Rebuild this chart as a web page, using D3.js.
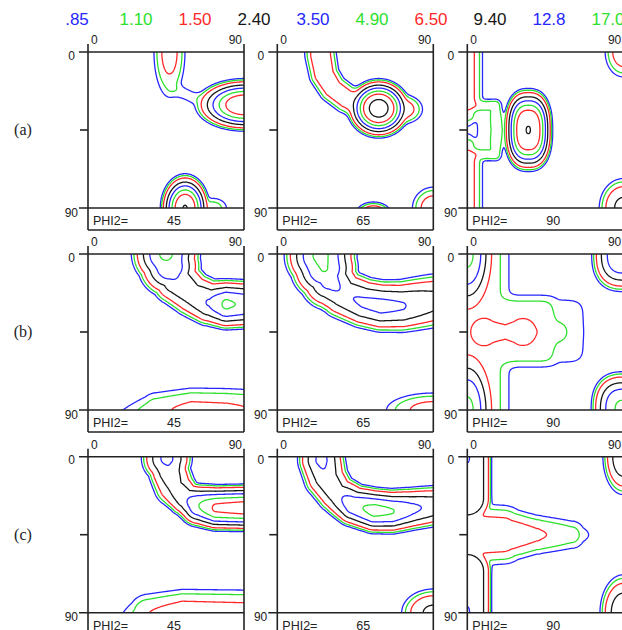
<!DOCTYPE html>
<html>
<head>
<meta charset="utf-8">
<script src="https://cdn.jsdelivr.net/npm/d3@7"></script>
<style>
  html, body { margin: 0; padding: 0; background: #fff; }
  svg { display: block; }
</style>
</head>
<body>
<svg id="chart" width="622" height="630"></svg>
<script>
// Contour levels of the orientation density and their legend labels
const levels = [0.85, 1.10, 1.50, 2.40, 3.50, 4.90, 6.50, 9.40, 12.8, 17.0];
const levelLabels = [".85", "1.10", "1.50", "2.40", "3.50", "4.90", "6.50", "9.40", "12.8", "17.0"];
const rowLabels = ["(a)", "(b)", "(c)"];
const phi2Sections = [45, 65, 90];
const angleTicks = [0, 90];

// Texture components of each section (angles in degrees).
// Peaks:  [phi1, Phi, spread phi1, spread Phi, density, shape]
// Ridges: { shape, nodes: [phi1, Phi, density, spread] }
const peaksA45 = [
  [47, 0, 7.3, 21, 1.8, 2],
  [90, 30.5, 13, 7, 9.0, 2],
  [56, 90, 6.5, 9, 9.55, 2],
  [72, 90, 8.5, 6, 1.3, 2]
];
const ridgesA45 = [
  { shape: 2, nodes: [[49, 21, 1.0, 5], [60, 26, 1.0, 5], [68, 28, 1.0, 5]] }
];

const peaksA65 = [
  [58.5, 32.5, 8, 7.5, 11.8, 2],
  [72, 33, 9, 6.5, 2.0, 2],
  [55.5, 94, 7, 5, 2.6, 2],
  [90, 90, 9.2, 9.2, 2.0, 2]
];
const ridgesA65 = [
  { shape: 2, nodes: [[24.5, -10, 2.15, 6.7], [25, 2, 2.15, 6.7], [27, 13, 2.1, 6.5], [32, 21, 2.0, 6.5], [40, 27, 2.0, 6.5], [50, 31, 2.2, 6.5]] }
];

const peaksA90 = [
  [35.2, 45, 7.5, 12.8, 9.45, 2.5],
  [14, 45, 11.7, 13.1, 0.95, 4],
  [90, 0, 8, 11, 2.0, 2],
  [90, 90, 9, 11, 2.8, 2]
];
const ridgesA90 = [
  { shape: 2, nodes: [[0, -10, 1.75, 7.3], [0, 28, 1.75, 7.3], [0, 36, 1.3, 6], [0, 45, 0.7, 5], [0, 54, 1.3, 6], [0, 62, 1.75, 7.3], [0, 100, 1.75, 7.3]] },
  { shape: 2, nodes: [[0, 31, 1.3, 3.5], [16, 31, 1.35, 4], [17, 45, 1.35, 4], [16, 59, 1.35, 4], [0, 59, 1.3, 3.5]] }
];

const peaksB45 = [];
const ridgesB45 = [
  { shape: 2, nodes: [[44, -10, 4.6, 11], [45, 0, 5.2, 10.5], [47, 7, 4.6, 10], [51, 15, 3.4, 9], [60, 23, 3.0, 8.5], [70, 28, 3.6, 8], [80, 29, 5.2, 7.8], [90, 29, 4.6, 7.8], [100, 29, 4.4, 7.8]] },
  { shape: 2, nodes: [[18, 96, 0.9, 10], [40, 91, 1.4, 11], [60, 90, 1.65, 11], [80, 90, 1.6, 11], [100, 90, 1.45, 11]] }
];

const peaksB65 = [
  [90, 90, 22, 8, 1.8, 2]
];
const ridgesB65 = [
  { shape: 2, nodes: [[25, -10, 5.0, 11], [25, 1, 5.3, 11], [27, 8, 5.0, 10.5], [30, 15, 4.0, 10], [38, 23, 3.3, 9], [50, 28, 3.7, 8.7], [60, 30, 3.9, 8.7], [72, 30, 3.6, 9], [90, 27, 2.8, 10], [100, 26, 2.6, 10]] }
];

const peaksB90 = [
  [0, 0, 8.5, 19, 5.3, 2],
  [0, 90, 8.5, 19, 5.3, 2],
  [90, 0, 11.1, 13.2, 4.8, 2.5],
  [90, 90, 11.1, 13.2, 5.2, 2.5],
  [34, 44.5, 18, 21, 1.2, 6],
  [45, 44.5, 28, 23, 0.95, 6]
];
const ridgesB90 = [
  { shape: 4, nodes: [[0, -10, 1.3, 25], [0, 100, 1.3, 25]] },
  { shape: 2, nodes: [[-5, 45, 0.9, 9], [3, 45, 1.2, 9], [10, 45, 1.95, 9], [22, 45, 1.6, 7], [32, 45, 1.95, 9], [36, 45, 1.5, 9], [42, 45, 1.25, 10], [52, 45, 1.12, 10], [60, 45, 0.7, 8]] }
];

const peaksC45 = [];
const ridgesC45 = [
  { shape: 2, nodes: [[45, -10, 3.6, 8.5], [45.5, 1, 3.8, 8.5], [47, 9, 3.2, 7.5], [50, 17, 2.7, 8], [56, 24, 3.2, 6.5], [64, 28, 4.9, 6.8], [74, 29.5, 6.9, 6.6], [90, 29.5, 7.5, 6.6], [100, 29.5, 7.4, 6.6]] },
  { shape: 2, nodes: [[20, 97, 0.9, 11], [35, 91, 1.5, 11], [55, 90, 1.8, 11], [75, 90, 1.75, 11], [100, 90, 1.7, 11]] }
];

const peaksC65 = [
  [90, 90, 12, 9, 2.7, 2]
];
const ridgesC65 = [
  { shape: 2, nodes: [[25, -10, 3.5, 8], [25.5, 2, 3.8, 8], [28, 12, 3.2, 8], [34, 21, 3.0, 7.5], [44, 28, 4.4, 7], [56, 31, 5.5, 7], [66, 31.5, 5.0, 7], [78, 30, 3.8, 7.2], [90, 28.5, 3.1, 7.4], [100, 28, 3.0, 7.4]] }
];

const peaksC90 = [
  [0, 0, 3, 8, 3.3, 2],
  [0, 90, 3, 8, 3.3, 2],
  [90, 0, 7, 13, 3.5, 2],
  [90, 90, 8, 13, 3.5, 2]
];
const ridgesC90 = [
  { shape: 4, nodes: [[0, -10, 3.1, 11.1], [0, 24, 3.1, 11.1]] },
  { shape: 4, nodes: [[0, 66, 3.1, 11.1], [0, 100, 3.1, 11.1]] },
  { shape: 2, nodes: [[-5, 45, 2.1, 14], [20, 45, 2.0, 13], [40, 45, 1.6, 10], [60, 45, 1.25, 9], [70, 45, 0.85, 7], [78, 45, 0.3, 6]] }
];

// Sections laid out row by row
const sections = [
  [[peaksA45, ridgesA45], [peaksA65, ridgesA65], [peaksA90, ridgesA90]],
  [[peaksB45, ridgesB45], [peaksB65, ridgesB65], [peaksB90, ridgesB90]],
  [[peaksC45, ridgesC45], [peaksC65, ridgesC65], [peaksC90, ridgesC90]]
];

// ---------- layout ----------
const colLeft = [88, 277.3, 467.3];
const rowTop = [52, 254, 456.7];
const W = 156, H = 156, boxH = 22;
const lineColors = ["#2626ff", "#2ee02e", "#ff2828", "#161616"];
const frameColor = "#222";
const sansFont = "'Liberation Sans', Arial, Helvetica, sans-serif";
const serifFont = "'Liberation Serif', 'Times New Roman', serif";

const svg = d3.select("#chart");
const defs = svg.append("defs");

// ---------- density field ----------
function peakValue(p, X, Y) {
  const [px, py, sx, sy, h, k] = p;
  const ax = Math.abs(X - px) / sx, ay = Math.abs(Y - py) / sy;
  return h * Math.exp(-0.5 * (Math.pow(ax, k) + Math.pow(ay, k)));
}
function ridgeValue(rd, X, Y) {
  let best = 0;
  const nd = rd.nodes;
  for (let i = 0; i < nd.length - 1; i++) {
    const [x0, y0, h0, s0] = nd[i], [x1, y1, h1, s1] = nd[i + 1];
    const vx = x1 - x0, vy = y1 - y0, L2 = vx * vx + vy * vy;
    let t = L2 > 0 ? ((X - x0) * vx + (Y - y0) * vy) / L2 : 0;
    t = Math.max(0, Math.min(1, t));
    const d = Math.hypot(X - (x0 + t * vx), Y - (y0 + t * vy));
    const h = h0 + t * (h1 - h0), s = s0 + t * (s1 - s0);
    const v = h * Math.exp(-0.5 * Math.pow(d / s, rd.shape));
    if (v > best) best = v;
  }
  return best;
}
const blendPow = 5;
function density(peaks, ridges, X, Y) {
  let acc = 0;
  for (const p of peaks) acc += Math.pow(peakValue(p, X, Y), blendPow);
  for (const r of ridges) acc += Math.pow(ridgeValue(r, X, Y), blendPow);
  return Math.pow(acc, 1 / blendPow);
}

const lo = -10, hi = 100, step = 0.5;
const n = Math.round((hi - lo) / step) + 1;

// ---------- legend ----------
svg.append("g").selectAll("text")
  .data(levelLabels)
  .join("text")
  .attr("x", (d, i) => 77 + 59 * i)
  .attr("y", 25)
  .attr("text-anchor", "middle")
  .attr("font-family", sansFont)
  .attr("font-size", 17)
  .attr("fill", (d, i) => lineColors[i % 4])
  .text(d => d);

// ---------- row labels ----------
svg.append("g").selectAll("text")
  .data(rowLabels)
  .join("text")
  .attr("x", 23)
  .attr("y", (d, i) => rowTop[i] + H / 2 + 5)
  .attr("text-anchor", "middle")
  .attr("font-family", serifFont)
  .attr("font-size", 16)
  .attr("fill", "#222")
  .text(d => d);

// ---------- sections ----------
sections.forEach((row, r) => {
  row.forEach(([peaks, ridges], c) => {
    const left = colLeft[c], top = rowTop[r];
    const xs = d3.scaleLinear().domain([0, 90]).range([left, left + W]);
    const ys = d3.scaleLinear().domain([0, 90]).range([top, top + H]);
    const g = svg.append("g");

    // sample the density on a regular grid that reaches past the section edges
    const values = new Float64Array(n * n);
    for (let j = 0; j < n; j++) {
      const Y = lo + j * step;
      for (let i = 0; i < n; i++) {
        values[j * n + i] = density(peaks, ridges, lo + i * step, Y);
      }
    }
    const contours = d3.contours().size([n, n]).thresholds(levels)(values);

    const clipId = `clip-${r}-${c}`;
    defs.append("clipPath").attr("id", clipId)
      .append("rect").attr("x", left).attr("y", top).attr("width", W).attr("height", H);

    const proj = d3.geoTransform({
      point(x, y) {
        this.stream.point(xs(lo + (x - 0.5) * step), ys(lo + (y - 0.5) * step));
      }
    });
    const path = d3.geoPath(proj);

    g.append("g").attr("clip-path", `url(#${clipId})`)
      .selectAll("path")
      .data(contours)
      .join("path")
      .attr("d", path)
      .attr("fill", "none")
      .attr("stroke", (d, i) => lineColors[i % 4])
      .attr("stroke-width", 1.3)
      .attr("stroke-linejoin", "round");

    // frame, ticks and the label box below the section
    const right = xs(90), bottom = ys(90), mid = ys(45);
    const frame = [
      [[xs(0) - 9, top], [right, top]],
      [[left, top - 8], [left, bottom + boxH]],
      [[right, top - 8], [right, bottom + boxH]],
      [[xs(0) - 9, bottom], [right, bottom]],
      [[left, bottom + boxH], [right, bottom + boxH]],
      [[left - 8, mid], [left, mid]]
    ];
    g.append("g").selectAll("path")
      .data(frame)
      .join("path")
      .attr("d", d => d3.line()(d))
      .attr("stroke", frameColor)
      .attr("stroke-width", 1.6)
      .attr("fill", "none");

    const tickText = g.append("g")
      .attr("font-family", sansFont)
      .attr("font-size", 12)
      .attr("fill", "#222");
    tickText.selectAll("text.top")
      .data(angleTicks)
      .join("text")
      .attr("class", "top")
      .attr("x", d => d === 0 ? xs(d) + 3 : xs(d) - 2)
      .attr("y", top - 8)
      .attr("text-anchor", d => d === 0 ? "start" : "end")
      .text(d => d);
    tickText.selectAll("text.side")
      .data(angleTicks)
      .join("text")
      .attr("class", "side")
      .attr("x", d => d === 0 ? left - 13 : left - 10)
      .attr("y", d => d === 0 ? ys(d) + 7.5 : ys(d) + 8.5)
      .attr("text-anchor", "end")
      .text(d => d);

    const box = g.append("g")
      .attr("font-family", sansFont)
      .attr("font-size", 12.5)
      .attr("fill", "#222");
    box.append("text").attr("x", left + 5).attr("y", bottom + 17).text("PHI2=");
    box.append("text").attr("x", left + 79).attr("y", bottom + 17).text(phi2Sections[c]);
  });
});
</script>
</body>
</html>
